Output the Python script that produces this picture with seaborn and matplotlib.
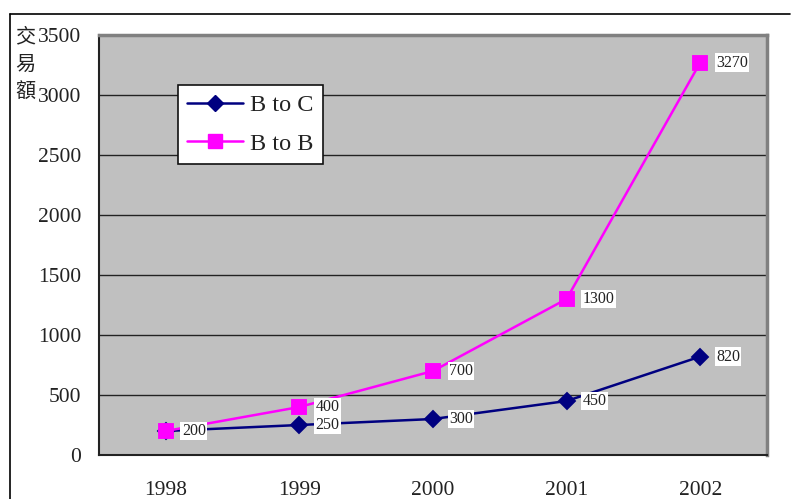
import matplotlib
matplotlib.use("Agg")
import matplotlib.pyplot as plt
from matplotlib.lines import Line2D
import seaborn as sns
import pandas as pd

years = ["1998", "1999", "2000", "2001", "2002"]
b_to_c = [200, 250, 300, 450, 820]
b_to_b = [200, 400, 700, 1300, 3270]
series_names = ["B to C", "B to B"]
y_label = "交\n易\n額"

df = pd.DataFrame({
    "year": years * 2,
    "value": b_to_c + b_to_b,
    "series": [series_names[0]] * len(years) + [series_names[1]] * len(years),
})

sns.set_theme(style="white")
plt.rcParams["font.family"] = ["Liberation Serif", "Noto Sans CJK TC", "DejaVu Sans"]

W, H = 791, 499
fig = plt.figure(figsize=(W / 100, H / 100), dpi=100)
fig.patch.set_facecolor("white")
ax = fig.add_axes([99 / W, 1 - 455 / H, (767 - 99) / W, (455 - 35) / H])
ax.set_facecolor("#C0C0C0")

colors = {"B to C": "#000080", "B to B": "#FF00FF"}
sns.pointplot(data=df, x="year", y="value", hue="series", order=years,
              hue_order=series_names, palette=colors, markers=["D", "s"],
              linestyles=["-", "-"], markersize=8, linewidth=1.8, ax=ax,
              legend=False, zorder=3)

# diamonds render larger than squares at the same size
marker_sizes = {"D": 7.8, "s": 10.5}
for ln in ax.lines:
    m = ln.get_marker()
    if m in marker_sizes:
        ln.set_markersize(marker_sizes[m])

ax.set_xlim(-0.5, len(years) - 0.5)
ax.set_ylim(0, 3500)
ax.set_yticks(range(0, 3501, 500))
ax.yaxis.grid(True, color="#222222", linewidth=1)
ax.xaxis.grid(False)
ax.set_axisbelow(True)

# category labels centred, tick marks on the category boundaries
ax.set_xticks(range(len(years)))
ax.set_xticklabels(years)
ax.set_xticks([i - 0.5 for i in range(len(years) + 1)], minor=True)
ax.tick_params(axis="x", which="major", length=0, pad=19, labelsize=15.5, colors="#222222")
ax.tick_params(axis="x", which="minor", length=7, width=1.2, color="#222222", direction="out")
ax.tick_params(axis="y", which="major", length=4, width=1.2, color="#222222",
               direction="out", labelsize=15.5, pad=9, labelcolor="#222222")
ax.set_xlabel("")
ax.set_ylabel("")

for side in ("left", "bottom"):
    ax.spines[side].set_color("#222222")
    ax.spines[side].set_linewidth(1.5)
for side in ("top", "right"):
    ax.spines[side].set_color("#808080")
    ax.spines[side].set_linewidth(2.5)

# value labels to the right of each point
for vals in (b_to_c, b_to_b):
    for i, v in enumerate(vals):
        ax.annotate(str(v), (i, v), xytext=(11.5, 0), textcoords="offset points",
                    ha="left", va="center", fontsize=11.5, color="#222222",
                    bbox=dict(boxstyle="square,pad=0.08", fc="white", ec="none"),
                    zorder=5)

handles = [
    Line2D([0], [0], color=colors["B to C"], lw=1.8, marker="D", markersize=7.8),
    Line2D([0], [0], color=colors["B to B"], lw=1.8, marker="s", markersize=10.5),
]
leg = ax.legend(handles, series_names, loc="upper left",
                bbox_to_anchor=((178 - 99) / 668, (455 - 85) / 420),
                borderaxespad=0, fontsize=17.5, handlelength=2.3, frameon=True,
                fancybox=False, framealpha=1, edgecolor="#111111",
                borderpad=0.38, labelspacing=0.68, handletextpad=0.3)
leg.get_frame().set_linewidth(1.2)
for t in leg.get_texts():
    t.set_color("#222222")

fig.text(15 / W, 1 - 26 / H, y_label, ha="left", va="top", fontsize=14.5,
         family=["Noto Sans CJK TC"], linespacing=1.42, color="#222222")

# outer frame of the chart
fig.add_artist(Line2D([10 / W, 790 / W], [1 - 14 / H, 1 - 14 / H],
                      transform=fig.transFigure, color="black", lw=1.2))
fig.add_artist(Line2D([10 / W, 10 / W], [0, 1 - 14 / H],
                      transform=fig.transFigure, color="black", lw=1.2))

fig.savefig("out.png", dpi=100)
